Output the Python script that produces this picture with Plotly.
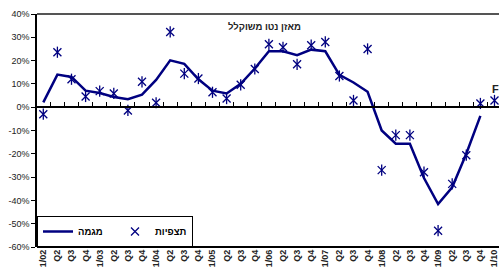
import plotly.graph_objects as go

categories = ["1/02", "Q2", "Q3", "Q4", "1/03", "Q2", "Q3", "Q4", "1/04", "Q2", "Q3", "Q4",
              "1/05", "Q2", "Q3", "Q4", "1/06", "Q2", "Q3", "Q4", "1/07", "Q2", "Q3", "Q4",
              "1/08", "Q2", "Q3", "Q4", "1/09", "Q2", "Q3", "Q4", "1/10"]

trend = [2.1, 14.0, 13.0, 7.1, 6.1, 4.4, 3.4, 5.4, 11.7, 20.1, 18.6, 12.0,
         7.1, 5.9, 10.0, 16.6, 24.0, 24.0, 22.3, 24.7, 24.0, 13.9, 10.6, 6.6,
         -10.0, -15.7, -15.7, -30.4, -41.6, -34.4, -20.0, -3.7, None]

observations = [-3.0, 23.6, 12.0, 4.6, 6.9, 5.9, -1.4, 10.9, 1.9, 32.3, 14.4, 12.3,
                6.4, 3.7, 9.6, 16.4, 27.0, 25.7, 18.4, 26.6, 28.0, 13.4, 2.9, 25.0,
                -27.0, -12.0, -12.0, -27.9, -53.0, -32.9, -20.6, 1.6, 2.9]

y_ticks = [-60, -50, -40, -30, -20, -10, 0, 10, 20, 30, 40]

NAVY = "#000080"
FONT = "Liberation Sans, Arial, sans-serif"
idx = list(range(len(categories)))
xr = [-0.447, 32.32]

fig = go.Figure()
fig.add_trace(go.Scatter(x=idx, y=trend, mode="lines", name="מגמה",
                         line=dict(color=NAVY, width=2.5), connectgaps=False))
fig.add_trace(go.Scatter(x=idx, y=observations, mode="markers", name="תצפיות",
                         marker=dict(symbol="x-thin-open", size=8,
                                     line=dict(color=NAVY, width=1.3), color=NAVY)))
fig.add_trace(go.Scatter(x=idx, y=observations, mode="markers", showlegend=False,
                         marker=dict(symbol="line-ns-open", size=8,
                                     line=dict(color=NAVY, width=1.3), color=NAVY)))
# invisible trace for the tick axis drawn along the 0% line
fig.add_trace(go.Scatter(x=[0], y=[0], xaxis="x2", mode="markers",
                         marker=dict(opacity=0), showlegend=False, hoverinfo="skip"))

fig.update_layout(
    width=499, height=274,
    margin=dict(l=37, r=0, t=14, b=27),
    paper_bgcolor="white", plot_bgcolor="white",
    font=dict(family=FONT, size=9, color="#222"),
    showlegend=True,
    legend=dict(orientation="h", x=0, y=0, xanchor="left", yanchor="bottom",
                bgcolor="white", bordercolor="black", borderwidth=1,
                font=dict(family=FONT, size=9.5, color="black", weight="bold"),
                itemwidth=30, tracegroupgap=0, entrywidth=32, entrywidthmode="pixels"),
    xaxis=dict(range=xr, tickmode="array", tickvals=idx, ticktext=categories,
               tickangle=-90, showgrid=False, zeroline=False, showline=False,
               ticks="", ticklabeloverflow="allow",
               tickfont=dict(family=FONT, size=9, color="#222", weight="bold")),
    xaxis2=dict(range=xr, overlaying="x", anchor="free", position=0.6,
                tickmode="array", tickvals=[i + 0.5 for i in idx],
                ticks="inside", ticklen=4, tickcolor="black", tickwidth=1,
                showticklabels=False, showline=True, linecolor="black", linewidth=1.5,
                showgrid=False, zeroline=False),
    yaxis=dict(range=[-60, 40], tickmode="array", tickvals=y_ticks,
               ticktext=[f"{v}%" for v in y_ticks], showgrid=False, zeroline=False,
               showline=True, linecolor="black", linewidth=1.5,
               ticks="outside", ticklen=4, tickcolor="black",
               tickfont=dict(family=FONT, size=9, color="#222")),
    shapes=[
        dict(type="line", xref="paper", yref="paper", x0=0, x1=1, y0=1, y1=1,
             line=dict(color="#555", width=2)),
        dict(type="line", xref="paper", yref="paper", x0=0, x1=1, y0=0, y1=0,
             line=dict(color="black", width=2)),
    ],
    annotations=[
        dict(text="מאזן נטו משוקלל", xref="paper", yref="paper", x=0.4935, y=0.945,
             yanchor="middle", showarrow=False,
             font=dict(family=FONT, size=9.5, color="#222", weight="bold")),
        dict(text="F", x=31.7, y=8.0, xref="x", yref="y", xanchor="left",
             showarrow=False, font=dict(family=FONT, size=11, color="#222", weight="bold")),
    ],
)

fig.write_html("out.html", config={"displayModeBar": False},
               post_script="document.body.style.margin='0';")
